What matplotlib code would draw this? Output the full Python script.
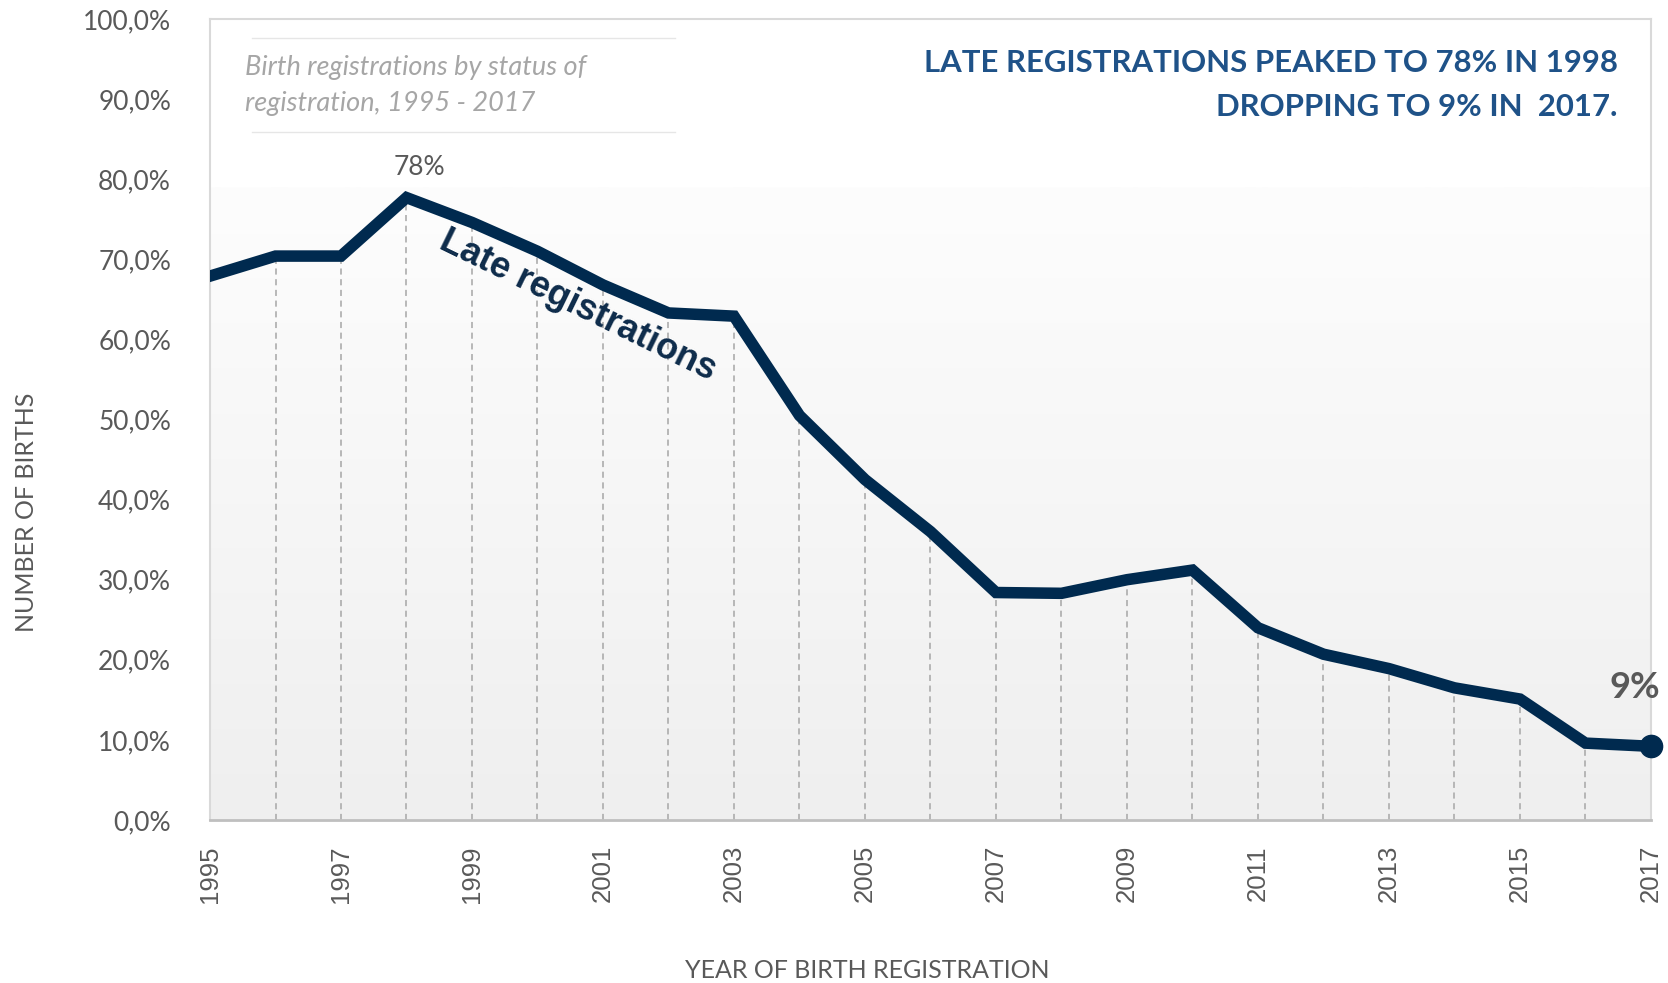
import numpy as np
import matplotlib.pyplot as plt
from matplotlib.colors import LinearSegmentedColormap
from matplotlib.lines import Line2D

# share of late birth registrations (%)
years = list(range(1995, 2018))
late_pct = [67.9, 70.4, 70.4, 77.7, 74.6, 71.0, 66.8, 63.3, 62.9, 50.5, 42.5, 36.0,
            28.4, 28.3, 30.0, 31.2, 24.0, 20.7, 18.9, 16.5, 15.1, 9.6, 9.2]
tick_years = list(range(1995, 2018, 2))
y_ticks = list(range(0, 101, 10))

navy = '#002a4f'
grey_txt = '#595959'

fig = plt.figure(figsize=(16.68, 9.83), dpi=100)
ax = fig.add_axes([0.1259, 0.1658, 0.8639, 0.8149])

# soft grey gradient behind the lower part of the plot
grad = np.linspace(0, 1, 256).reshape(-1, 1)
cmap = LinearSegmentedColormap.from_list('bg', ['#efefef', '#fdfdfd'])
ax.imshow(grad, extent=[1995, 2017, 0, 79], origin='lower', aspect='auto',
          cmap=cmap, zorder=0)

ax.vlines(years, 0, late_pct, colors='#a6a6a6', linestyles=(0, (4, 3)), lw=1.1, zorder=1)
ax.plot(years, late_pct, color=navy, lw=8.3, solid_joinstyle='miter', zorder=3)
ax.plot(years[-1], late_pct[-1], 'o', color=navy, ms=16, clip_on=False, zorder=4)

ax.set_xlim(1995, 2017)
ax.set_ylim(0, 100)
ax.set_xticks(tick_years)
ax.set_xticklabels([str(y) for y in tick_years], rotation=90, family='Liberation Sans',
                   fontsize=18.5, color=grey_txt)
ax.set_yticks(y_ticks)
ax.set_yticklabels([f'{v},0%' for v in y_ticks], family='Lato', fontsize=19, color=grey_txt)
ax.tick_params(axis='both', length=0)
ax.tick_params(axis='y', pad=28)
ax.tick_params(axis='x', pad=18)

for s in ['left', 'top', 'right']:
    ax.spines[s].set_color('#d9d9d9')
    ax.spines[s].set_linewidth(1.5)
ax.spines['bottom'].set_color('#bfbfbf')
ax.spines['bottom'].set_linewidth(2)

# annotations
ax.text(1998.2, 81.4, '78%', ha='center', va='center', family='Lato', fontsize=19,
        color=grey_txt)
ax.text(2016.76, 16.5, '9%', ha='center', va='center', family='Lato', fontsize=26,
        fontweight='bold', color=grey_txt)
ax.text(2000.62, 64.2, 'Late registrations', ha='center', va='center', rotation=-26,
        family='Liberation Sans', fontsize=26, color='#0d2b4a', fontweight='bold')

ax.text(0.024, 0.939, 'Birth registrations by status of', transform=ax.transAxes,
        ha='left', va='center', family='Lato', style='italic', fontsize=19.5, color='#a6a6a6')
ax.text(0.024, 0.895, 'registration, 1995 - 2017', transform=ax.transAxes,
        ha='left', va='center', family='Lato', style='italic', fontsize=19.5, color='#a6a6a6')
for yy in [0.976, 0.859]:
    ax.add_line(Line2D([0.029, 0.323], [yy, yy], transform=ax.transAxes,
                       color='#e6e6e6', lw=1))

ax.text(0.977, 0.945, 'LATE REGISTRATIONS PEAKED TO 78% IN 1998', transform=ax.transAxes,
        ha='right', va='center', family='Lato', fontweight='bold',
        fontsize=22.4, color='#1f5288')
ax.text(0.977, 0.89, 'DROPPING TO 9% IN  2017.', transform=ax.transAxes,
        ha='right', va='center', family='Lato', fontweight='bold',
        fontsize=22.4, color='#1f5288')

fig.text(0.016, 0.479, 'NUMBER OF BIRTHS', rotation=90, ha='center', va='center',
         family='Lato', fontsize=18, color=grey_txt)
fig.text(0.52, 0.013, 'YEAR OF BIRTH REGISTRATION', ha='center', va='center',
         family='Lato', fontsize=18, color=grey_txt)

fig.savefig('out.png', dpi=100, facecolor='white')
